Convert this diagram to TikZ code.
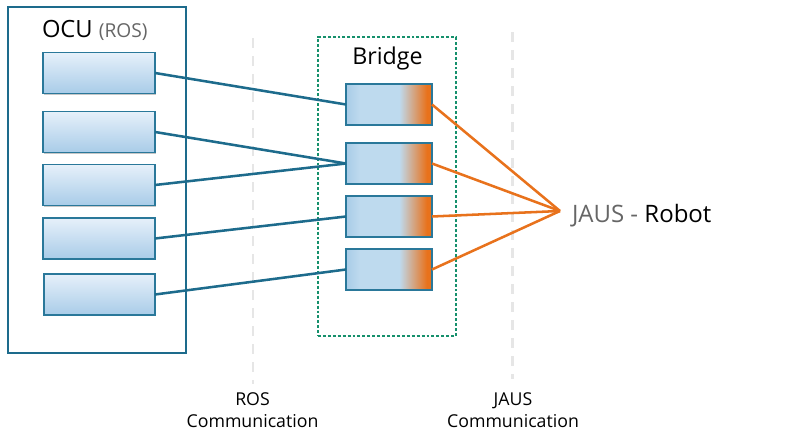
\documentclass[tikz,border=0pt]{standalone}
\usepackage{fontspec}
\setmainfont{Open Sans}
\usetikzlibrary{shadows}
\definecolor{ocublue}{HTML}{1D6B8C}
\definecolor{boxblue}{HTML}{2A789A}
\definecolor{lbtop}{HTML}{E6F0FA}
\definecolor{lbbot}{HTML}{A9CCE8}
\definecolor{bla}{HTML}{A8CCE7}
\definecolor{blb}{HTML}{BEDAEE}
\definecolor{jorange}{HTML}{E8721C}
\definecolor{bridgegreen}{HTML}{16906C}
\definecolor{sepgrey}{HTML}{E6E6E6}
\definecolor{txtgrey}{HTML}{666666}
\pgfdeclarehorizontalshading{bridgeshade}{100bp}{color(0bp)=(bla); color(25bp)=(bla); color(33bp)=(blb); color(56bp)=(blb); color(72bp)=(jorange); color(75bp)=(jorange); color(100bp)=(jorange)}
\tikzset{
  frame/.style={draw=ocublue, line width=1.9pt, minimum width=133.5pt, minimum height=259.5pt, inner sep=0pt},
  bridgeframe/.style={draw=bridgegreen, line width=0.8pt, dash pattern=on 2.2pt off 1.5pt, minimum width=103.5pt, minimum height=224.25pt, inner sep=0pt},
  leftbox/.style={draw=boxblue, line width=1.1pt, top color=lbtop, bottom color=lbbot, minimum width=84pt, minimum height=30.5pt, inner sep=0pt, outer sep=0pt, drop shadow={shadow xshift=0.9pt, shadow yshift=-0.9pt, fill=black, opacity=0.22}},
  bridgebox/.style={draw=boxblue, line width=1.1pt, shade, shading=bridgeshade, minimum width=64.5pt, minimum height=30.75pt, inner sep=0pt, outer sep=0pt, drop shadow={shadow xshift=0.9pt, shadow yshift=-0.9pt, fill=black, opacity=0.22}},
  conn/.style={draw=ocublue, line width=1.9pt},
  jconn/.style={draw=jorange, line width=1.9pt},
  sepline/.style={draw=sepgrey, line width=1.7pt, dash pattern=on 7.5pt off 6pt},
  label/.style={inner sep=0pt, outer sep=0pt},
  commlabel/.style={inner sep=0pt, outer sep=0pt, align=center, font=\fontsize{13.3}{16.5}\selectfont},
}
\begin{document}
\begin{tikzpicture}[x=0.75pt,y=-0.75pt]
\useasboundingbox (0,0) rectangle (800,441);
% separators
\coordinate (s1a) at (253,38);
\coordinate (s1b) at (253,384);
\coordinate (s2a) at (512.5,32);
\coordinate (s2b) at (512.5,379);
\draw[sepline] (s1a) -- (s1b);
\draw[sepline] (s2a) -- (s2b);
% frames
\node[frame] (ocu) at (97,180) {};
\node[bridgeframe] (bridge) at (387,186.5) {};
% titles
\node[label, anchor=base west] (ocutitle) at (42,38) {\fontsize{17.8}{21}\selectfont OCU {\fontsize{14.4}{17}\selectfont\color{txtgrey}(ROS)}};
\node[label, anchor=base] (bridgetitle) at (387.5,65) {\fontsize{17.4}{20}\selectfont Bridge};
% left boxes
\node[leftbox] (l1) at (99,73) {};
\node[leftbox] (l2) at (99,132) {};
\node[leftbox] (l3) at (99,185) {};
\node[leftbox] (l4) at (99,238.5) {};
\node[leftbox, minimum width=83.25pt] (l5) at (99.5,294.5) {};
% bridge boxes
\node[bridgebox] (b1) at (389,104.5) {};
\node[bridgebox] (b2) at (389,163.5) {};
\node[bridgebox] (b3) at (389,216.5) {};
\node[bridgebox] (b4) at (389,269.5) {};
% robot
\coordinate (j) at (560,211);
\node[label, anchor=base west] (robot) at (572,223) {\fontsize{18}{21}\selectfont{\color{txtgrey}JAUS -} Robot};
% connectors
\draw[conn] (l1.east) -- (b1.west);
\draw[conn] (l2.east) -- (b2.west);
\draw[conn] (l3.east) -- (b2.west);
\draw[conn] (l4.east) -- (b3.west);
\draw[conn] (l5.east) -- (b4.west);
\draw[jconn] (b1.east) -- (j);
\draw[jconn] (b2.east) -- (j);
\draw[jconn] (b3.east) -- (j);
\draw[jconn] (b4.east) -- (j);
% bottom labels
\node[commlabel, anchor=base] (roscom) at (252.5,428) {ROS\\Communication};
\node[commlabel, anchor=base] (jauscom) at (513,428) {JAUS\\Communication};
\end{tikzpicture}
\end{document}
